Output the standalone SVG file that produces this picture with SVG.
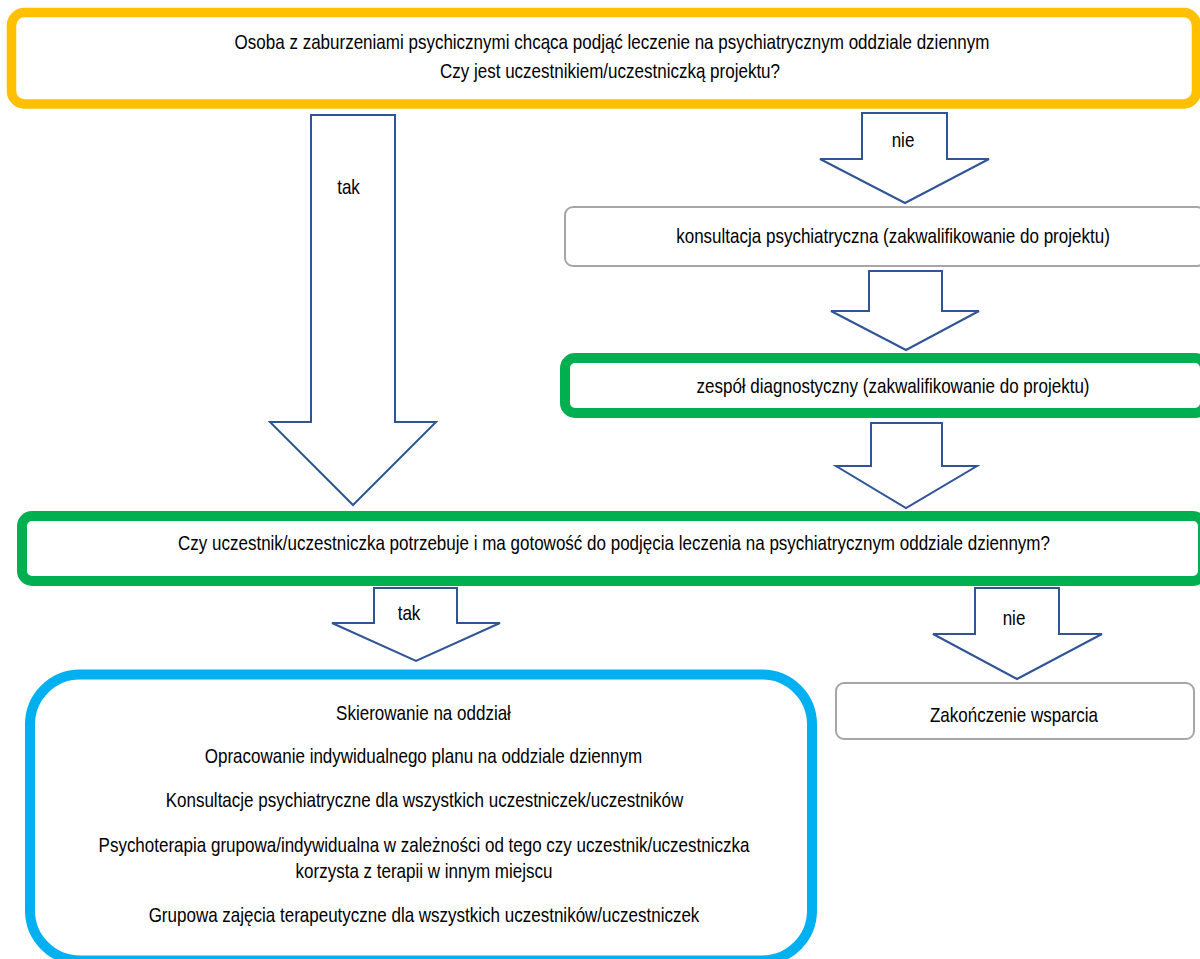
<svg xmlns="http://www.w3.org/2000/svg" width="1200" height="959" viewBox="0 0 1200 959">
  <defs>
    <style>
      .t { font-family: "Liberation Sans", Arial, sans-serif; font-size: 21px; fill: #000; text-anchor: middle; }
      .box-yellow { fill: #fff; stroke: #FFC000; stroke-width: 9.5; }
      .box-green { fill: #fff; stroke: #00B050; stroke-width: 10; }
      .box-blue { fill: #fff; stroke: #00B0F0; stroke-width: 10; }
      .box-gray { fill: #fff; stroke: #A6A6A6; stroke-width: 2; }
      .arrow { fill: #fff; stroke: #2F5597; stroke-width: 2; stroke-linejoin: miter; }
    </style>
  </defs>

  <rect width="1200" height="959" fill="#fff"/>

  <!-- start: person wanting day-ward treatment -->
  <g id="node-start">
    <rect class="box-yellow" x="11.5" y="12.5" width="1185" height="91.5" rx="13"/>
    <text class="t" transform="translate(612,48.5) scale(0.81,1)">Osoba z zaburzeniami psychicznymi chcąca podjąć leczenie na psychiatrycznym oddziale dziennym</text>
    <text class="t" transform="translate(610,78) scale(0.81,1)">Czy jest uczestnikiem/uczestniczką projektu?</text>
  </g>

  <!-- psychiatric consultation -->
  <g id="node-consult">
    <rect class="box-gray" x="565" y="207" width="640" height="59" rx="8"/>
    <text class="t" transform="translate(893,243) scale(0.81,1)">konsultacja psychiatryczna (zakwalifikowanie do projektu)</text>
  </g>

  <!-- diagnostic team -->
  <g id="node-team">
    <rect class="box-green" x="565" y="358" width="640" height="55" rx="10"/>
    <text class="t" transform="translate(893,393) scale(0.81,1)">zespół diagnostyczny (zakwalifikowanie do projektu)</text>
  </g>

  <!-- readiness question -->
  <g id="node-ready">
    <rect class="box-green" x="22" y="516" width="1181" height="65" rx="10"/>
    <text class="t" transform="translate(614,550) scale(0.81,1)">Czy uczestnik/uczestniczka potrzebuje i ma gotowość do podjęcia leczenia na psychiatrycznym oddziale dziennym?</text>
  </g>

  <!-- day-ward programme -->
  <g id="node-ward">
    <rect class="box-blue" x="30" y="674.5" width="782" height="286" rx="50"/>
    <text class="t" transform="translate(423.5,720) scale(0.81,1)">Skierowanie na oddział</text>
    <text class="t" transform="translate(423.5,763) scale(0.81,1)">Opracowanie indywidualnego planu na oddziale dziennym</text>
    <text class="t" transform="translate(424.5,807) scale(0.81,1)">Konsultacje psychiatryczne dla wszystkich uczestniczek/uczestników</text>
    <text class="t" transform="translate(424,852) scale(0.81,1)">Psychoterapia grupowa/indywidualna w zależności od tego czy uczestnik/uczestniczka</text>
    <text class="t" transform="translate(424,878) scale(0.81,1)">korzysta z terapii w innym miejscu</text>
    <text class="t" transform="translate(424,922) scale(0.81,1)">Grupowa zajęcia terapeutyczne dla wszystkich uczestników/uczestniczek</text>
  </g>

  <!-- end of support -->
  <g id="node-end">
    <rect class="box-gray" x="836" y="683" width="358" height="56" rx="8"/>
    <text class="t" transform="translate(1014,722) scale(0.81,1)">Zakończenie wsparcia</text>
  </g>

  <!-- block arrows between steps -->
  <g id="connectors">
    <polygon class="arrow" points="311,115 395,115 395,422 436,422 353,505 270,422 311,422"/>
    <text class="t" transform="translate(348.5,194) scale(0.81,1)">tak</text>

    <polygon class="arrow" points="862,113 947,113 947,159 989,159 905,203 820,159 862,159"/>
    <text class="t" transform="translate(903,147) scale(0.81,1)">nie</text>

    <polygon class="arrow" points="869,271 942,271 942,311 979,311 906,350 831,311 869,311"/>

    <polygon class="arrow" points="871,423 942,423 942,466 977,466 906,508 836,466 871,466"/>

    <polygon class="arrow" points="374,588 457,588 457,623 500,623 416,661 332,623 374,623"/>
    <text class="t" transform="translate(409,620) scale(0.81,1)">tak</text>

    <polygon class="arrow" points="975,588 1059,588 1059,634 1102,634 1017,679 933,634 975,634"/>
    <text class="t" transform="translate(1014,625) scale(0.81,1)">nie</text>
  </g>
</svg>
